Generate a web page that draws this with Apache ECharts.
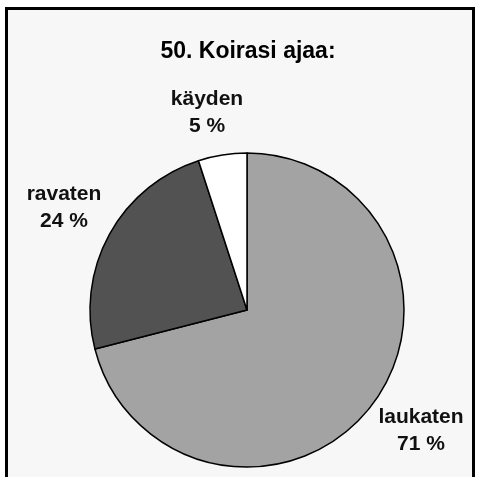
<!DOCTYPE html>
<html>
<head>
<meta charset="utf-8">
<script src="https://cdn.jsdelivr.net/npm/echarts@6/dist/echarts.min.js"></script>
<style>
  html, body { margin: 0; padding: 0; background: #fff; }
  #chart { width: 480px; height: 477px; }
</style>
</head>
<body>
<div id="chart"></div>
<script>
// data
var categories = ['laukaten', 'ravaten', 'käyden'];
var values = [71, 24, 5];
var sliceColors = ['#a3a3a3', '#525252', '#ffffff'];
// label spots (block centers)
var labelSpots = [[421, 431], [64, 208], [207, 113]];

var chart = echarts.init(document.getElementById('chart'));

var option = {
  backgroundColor: '#ffffff',
  animation: false,
  graphic: [{
    type: 'rect',
    z: -10,
    shape: { x: 6.5, y: 8.5, width: 467, height: 480 },
    style: { fill: '#f7f7f7', stroke: '#000', lineWidth: 3 }
  }],
  title: {
    text: '50. Koirasi ajaa:',
    left: 243,
    top: 35,
    textAlign: 'center',
    textStyle: {
      fontFamily: 'Liberation Sans, Arial, sans-serif',
      fontSize: 23,
      fontWeight: 'bold',
      color: '#000'
    }
  },
  series: [{
    type: 'pie',
    center: [247, 310],
    radius: 157,
    startAngle: 90,
    clockwise: true,
    data: categories.map(function (c, i) {
      return { name: c, value: values[i], itemStyle: { color: sliceColors[i] } };
    }),
    itemStyle: { borderColor: '#000', borderWidth: 1.5 },
    label: {
      show: true,
      formatter: '{b}\n{d} %',
      fontFamily: 'Liberation Sans, Arial, sans-serif',
      fontSize: 21,
      fontWeight: 'bold',
      lineHeight: 27,
      color: '#111',
      align: 'center',
      overflow: 'none'
    },
    labelLine: { show: false },
    labelLayout: function (p) {
      var s = labelSpots[p.dataIndex];
      return { x: s[0], y: s[1], align: 'center', verticalAlign: 'middle' };
    },
    emphasis: { disabled: true }
  }]
};

chart.setOption(option);
</script>
</body>
</html>
